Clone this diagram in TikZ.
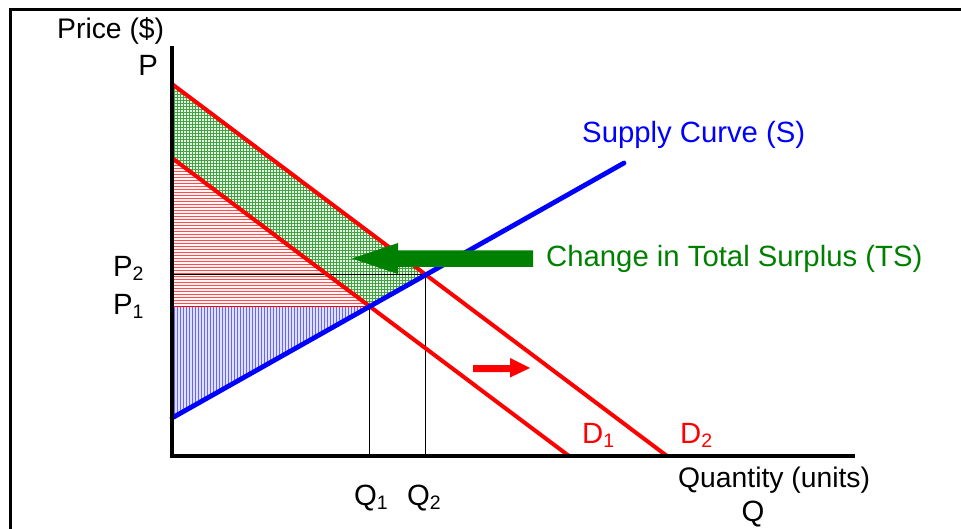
\documentclass[tikz,border=0pt]{standalone}
\usepackage{fontspec}
\setmainfont{Liberation Sans}
\usetikzlibrary{patterns}
\newcommand\sbs[1]{\raisebox{-4pt}{\fontsize{19.5}{20}\selectfont #1}}
\definecolor{gridgreen}{RGB}{70,160,70}
\begin{document}
\begin{tikzpicture}[x=1pt,y=-1pt,
  lbl/.style={font=\fontsize{29.3}{32}\selectfont, inner sep=0pt},
  smlbl/.style={font=\fontsize{28.3}{32}\selectfont, inner sep=0pt},
  dem/.style={red, line width=4pt},
  guide/.style={black, line width=1pt},
  axis/.style={black, line width=3.8pt}]
\useasboundingbox (0,0) rectangle (961,529);
\clip (0,0) rectangle (961,529);
% frame
\draw[line width=2.6pt] (10.5,540) -- (10.5,9.5) -- (975,9.5);
% geometry
\coordinate (O) at (172,456);
\coordinate (D1a) at (172,158); \coordinate (D1b) at (569,456);
\coordinate (D2a) at (172,84);  \coordinate (D2b) at (667,456);
\coordinate (Sa) at (172,418);  \coordinate (Sb) at (624,163);
\coordinate (E1) at (intersection of D1a--D1b and Sa--Sb);
\coordinate (E2) at (intersection of D2a--D2b and Sa--Sb);
\coordinate (P1) at (O|-E1); \coordinate (P2) at (O|-E2);
\coordinate (Q1) at (O-|E1); \coordinate (Q2) at (O-|E2);
% surplus areas
\fill[green!10] (D2a) -- (E2) -- (E1) -- (D1a) -- cycle;
\fill[pattern=grid, pattern color=gridgreen] (D2a) -- (E2) -- (E1) -- (D1a) -- cycle;
\fill[red!4] (D1a) -- (E1) -- (P1) -- cycle;
\fill[pattern=horizontal lines, pattern color=red!70] (D1a) -- (E1) -- (P1) -- cycle;
\fill[blue!12] (P1) -- (E1) -- (Sa) -- cycle;
\fill[pattern=vertical lines, pattern color=blue!60] (P1) -- (E1) -- (Sa) -- cycle;
% guides
\draw[guide] (P2) -- (E2) -- (Q2);
\draw[guide] (E1) -- (Q1);
\draw[red, line width=1.2pt] (P1) -- (E1);
% curves
\draw[dem] (D1a) -- (D1b);
\draw[dem] (D2a) -- (D2b);
\draw[blue, line width=4.8pt, line cap=round] (Sa) -- (Sb);
% axes
\coordinate (Ytop) at (172,46);
\coordinate (Xend) at (855,456);
\draw[axis] (Ytop) -- (O) -- (Xend);
% shift arrows
\fill[green!50!black] (533,250.5) -- (398,250.5) -- (398,243) -- (352,258.5) -- (398,274) -- (398,267) -- (533,267) -- cycle;
\fill[red] (473,365) -- (510,365) -- (510,358) -- (530,368) -- (510,377.5) -- (510,372) -- (473,372) -- cycle;
% labels
\node[smlbl, anchor=base west] (price) at (57,39) {Price (\$)};
\node[lbl, anchor=base east] (plbl) at (158,76) {P};
\node[lbl, anchor=base west] (p2) at (113,277) {P\sbs{2}};
\node[lbl, anchor=base west] (p1) at (113,315) {P\sbs{1}};
\node[lbl, anchor=base west] (q1) at (354,505) {Q\sbs{1}};
\node[lbl, anchor=base west] (q2) at (407,505) {Q\sbs{2}};
\node[smlbl, anchor=base west] (qty) at (678,487) {Quantity (units)};
\node[lbl, anchor=base] (qlbl) at (753,521) {Q};
\node[lbl, anchor=base west, text=red] (d1) at (582,443) {D\sbs{1}};
\node[lbl, anchor=base west, text=red] (d2) at (680,443) {D\sbs{2}};
\node[lbl, anchor=base west, text=blue] (slbl) at (582,143) {Supply Curve (S)};
\node[lbl, anchor=base west, text=green!50!black] (ts) at (546,267) {Change in Total Surplus (TS)};
\end{tikzpicture}
\end{document}
